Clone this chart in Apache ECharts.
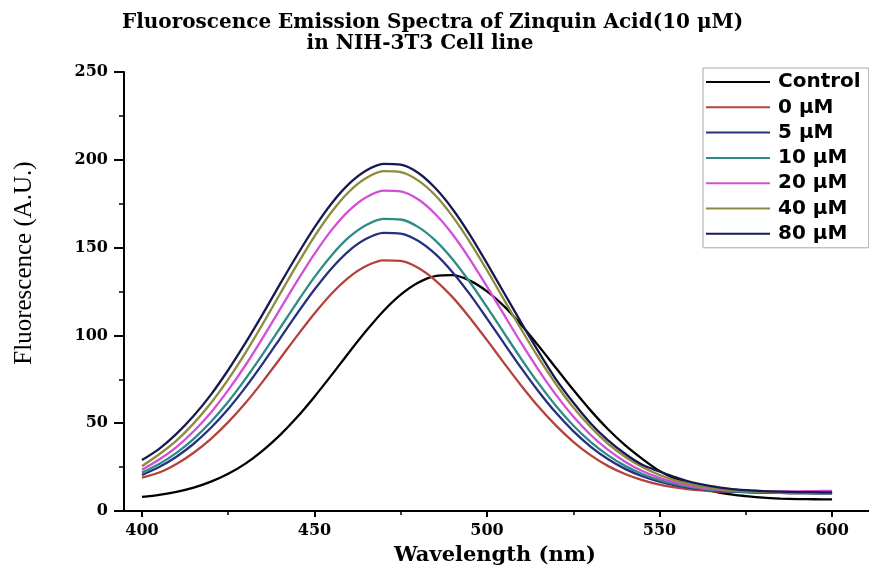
<!DOCTYPE html>
<html>
<head>
<meta charset="utf-8">
<script src="https://cdn.jsdelivr.net/npm/echarts@6/dist/echarts.min.js"></script>
<style>
html,body{margin:0;padding:0;background:#fff;}
#chart{width:869px;height:575px;}
</style>
</head>
<body>
<div id="chart"></div>
<script>
// ---- data ----
const wavelengths = [400,405,410,415,420,425,430,435,440,445,450,455,460,465,470,475,480,485,490,495,500,505,510,515,520,525,530,535,540,545,550,555,560,565,570,575,580,585,590,595,600];
const seriesNames = ['Control','0 μM','5 μM','10 μM','20 μM','40 μM','80 μM'];
const control = [8.0,9.2,10.9,13.3,16.7,21.2,27.0,34.4,43.2,53.5,65.1,77.5,90.3,102.6,113.9,123.2,130.0,133.8,134.3,131.2,125.1,116.5,105.8,93.9,81.4,69.0,57.3,46.7,37.5,29.7,22.8,18.0,14.0,11.5,9.6,8.5,7.6,7.1,6.8,6.7,6.6];
const uM0  = [19.0,21.9,26.8,33.2,41.1,50.6,61.5,73.7,86.7,99.9,112.5,123.9,133.1,139.5,142.7,142.4,138.5,131.4,121.8,110.1,97.3,84.1,71.2,59.2,48.6,39.4,31.8,25.7,21.1,17.6,15.0,13.3,12.1,11.4,11.0,10.7,10.4,10.3,10.2,10.1,10.0];
const uM5  = [20.5,25.0,30.9,38.3,47.4,58.1,70.4,83.9,98.2,112.5,126.1,138.3,148.2,155.0,158.4,158.0,153.9,146.4,136.0,123.5,109.6,95.3,81.2,67.9,55.9,45.5,36.7,29.6,24.0,19.8,16.7,14.4,12.9,11.8,11.2,10.8,10.5,10.3,10.2,10.1,10.0];
const uM10 = [21.9,26.8,33.1,41.1,50.8,62.2,75.2,89.3,104.1,119.0,133.2,145.7,155.9,162.9,166.4,166.0,161.8,154.1,143.4,130.4,116.1,101.2,86.4,72.5,59.8,48.7,39.4,31.8,25.7,21.1,17.6,15.1,13.3,12.1,11.4,10.9,10.6,10.4,10.2,10.2,10.1];
const uM20 = [23.5,29.3,36.4,45.4,56.1,68.8,83.0,98.6,114.8,131.0,146.4,160.1,171.1,178.7,182.5,182.0,177.5,169.1,157.6,143.5,127.8,111.5,95.4,80.1,66.1,53.8,43.4,34.9,28.1,22.8,18.9,16.0,13.9,12.5,11.9,11.6,11.3,11.2,11.2,11.3,11.5];
const uM40 = [25.5,32.3,40.1,49.9,61.5,75.0,90.1,106.5,123.6,140.4,156.4,170.4,181.8,189.6,193.5,193.0,188.3,179.8,167.8,153.3,137.1,120.1,103.2,87.0,72.2,59.0,47.8,38.4,30.9,25.0,20.5,17.2,14.8,13.1,12.0,11.4,11.0,10.8,10.6,10.5,10.5];
const uM80 = [29.0,35.4,43.9,54.2,66.3,80.3,95.7,112.1,129.2,145.8,161.5,175.3,186.3,193.9,197.7,197.2,192.6,183.9,172.0,157.4,141.0,124.0,107.0,90.5,75.0,61.8,50.0,40.4,32.6,26.3,22.5,19.0,16.0,14.2,12.8,11.9,11.3,11.0,10.8,10.7,10.6];
const xMajorTicks = [400,450,500,550,600];
const xMinorTicks = [425,475,525,575];
const titleLine1 = 'Fluoroscence Emission Spectra of Zinquin Acid(10 μM)';
const titleLine2 = 'in NIH-3T3 Cell line';
const xName = 'Wavelength (nm)';
const yName = 'Fluorescence (A.U.)';

const allValues = [control,uM0,uM5,uM10,uM20,uM40,uM80];
const colors = ['#000000','#b5433b','#26307f','#2e8b87','#d24fd6','#8d8b3c','#151b50'];

const chart = echarts.init(document.getElementById('chart'), null, {renderer:'canvas'});

const series = allValues.map((vals, i) => ({
  name: seriesNames[i],
  type: 'line',
  xAxisIndex: 0,
  yAxisIndex: 0,
  data: wavelengths.map((w, j) => [w, vals[j]]),
  smooth: 0.3,
  symbol: 'none',
  lineStyle: {color: colors[i], width: 2.3},
  itemStyle: {color: colors[i]},
  animation: false
}));

const serifBold = {fontFamily:'DejaVu Serif', fontWeight:'bold', fontSize:16, color:'#000'};

const option = {
  animation: false,
  backgroundColor: '#fff',
  grid: {left:124, right:0, top:72, bottom:64, containLabel:false},
  xAxis: [
    {
      type:'value', min:394.8, max:610.7, position:'bottom',
      axisLine:{show:true, onZero:false, lineStyle:{color:'#000', width:2}},
      axisTick:{show:true, customValues:xMajorTicks, length:6, lineStyle:{color:'#000', width:2}},
      axisLabel:{show:true, customValues:xMajorTicks, margin:12, ...serifBold},
      splitLine:{show:false}
    },
    {
      type:'value', min:394.8, max:610.7, position:'bottom',
      axisLine:{show:false, onZero:false},
      axisTick:{show:true, customValues:xMinorTicks, length:4, lineStyle:{color:'#000', width:1.5}},
      axisLabel:{show:false},
      splitLine:{show:false}
    }
  ],
  yAxis: {
    type:'value', min:0, max:250, interval:50,
    axisLine:{show:true, onZero:false, lineStyle:{color:'#000', width:2}},
    axisTick:{show:true, length:10, lineStyle:{color:'#000', width:2}},
    minorTick:{show:true, splitNumber:2, length:5, lineStyle:{color:'#000', width:1.5}},
    axisLabel:{margin:16, ...serifBold},
    splitLine:{show:false},
    minorSplitLine:{show:false}
  },
  legend: {
    show:true,
    orient:'vertical',
    left:703, top:68,
    data: seriesNames,
    icon:'rect',
    itemWidth:64, itemHeight:2, itemGap:5.3,
    padding:[4,8,4,3],
    borderColor:'#a8a8a8', borderWidth:1,
    backgroundColor:'#fff',
    textStyle:{fontFamily:'DejaVu Sans', fontWeight:'bold', fontSize:20, color:'#000', lineHeight:19, padding:[0,0,0,3]}
  },
  graphic: [
    {type:'text', x:122, y:23, style:{text:titleLine1, font:'bold 20px "DejaVu Serif"', fill:'#000', align:'left', verticalAlign:'middle'}},
    {type:'text', x:420, y:44, style:{text:titleLine2, font:'bold 20px "DejaVu Serif"', fill:'#000', align:'center', verticalAlign:'middle'}},
    {type:'text', x:495, y:556, style:{text:xName, font:'bold 21px "DejaVu Serif"', fill:'#000', align:'center', verticalAlign:'middle'}},
    {type:'text', x:24, y:263, rotation:Math.PI/2, style:{text:yName, font:'25px "Liberation Serif"', fill:'#000', align:'center', verticalAlign:'middle'}}
  ],
  series: series
};
chart.setOption(option);
</script>
</body>
</html>
